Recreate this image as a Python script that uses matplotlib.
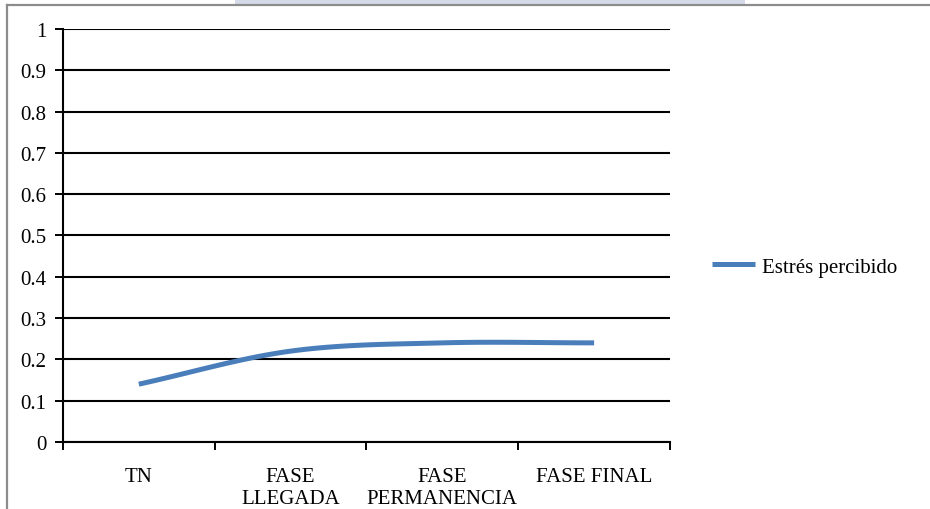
import numpy as np
import matplotlib
matplotlib.use("Agg")
from matplotlib import pyplot as plt
from matplotlib.patches import Rectangle

fases = ["TN", "FASE\nLLEGADA", "FASE\nPERMANENCIA", "FASE FINAL"]
estres = [0.14, 0.22, 0.24, 0.24]
yticks = [0, 0.1, 0.2, 0.3, 0.4, 0.5, 0.6, 0.7, 0.8, 0.9, 1]
ylabels = ["0", "0.1", "0.2", "0.3", "0.4", "0.5", "0.6", "0.7", "0.8", "0.9", "1"]

plt.rcParams['font.family'] = ['Liberation Serif', 'DejaVu Serif']


# courbe lissée (Catmull-Rom) entre les points
def lisser(x, y, n=30):
    x = np.asarray(x, float)
    y = np.asarray(y, float)
    px = np.concatenate([[2 * x[0] - x[1]], x, [2 * x[-1] - x[-2]]])
    py = np.concatenate([[2 * y[0] - y[1]], y, [2 * y[-1] - y[-2]]])
    xs, ys = [], []
    t = np.linspace(0, 1, n)
    for i in range(1, len(px) - 2):
        for p, out in ((px, xs), (py, ys)):
            p0, p1, p2, p3 = p[i - 1], p[i], p[i + 1], p[i + 2]
            out.extend(0.5 * ((2 * p1) + (-p0 + p2) * t
                              + (2 * p0 - 5 * p1 + 4 * p2 - p3) * t ** 2
                              + (-p0 + 3 * p1 - 3 * p2 + p3) * t ** 3))
    return xs, ys


fig = plt.figure(figsize=(9.3, 5.1), dpi=100)
ax = fig.add_axes([0.0677, 0.1314, 0.6527, 0.8098])

pos = np.arange(len(fases))
xs, ys = lisser(pos, estres)
ax.plot(xs, ys, color="#4a7ebb", lw=3.6, solid_capstyle="butt", label="Estrés percibido")

ax.set_xlim(-0.5, len(fases) - 0.5)
ax.set_ylim(0, 1)
ax.set_yticks(yticks)
ax.set_yticklabels(ylabels, fontsize=15)
ax.grid(axis="y", color="black", lw=1.5)
ax.set_axisbelow(True)

ax.set_xticks(np.arange(len(fases) + 1) - 0.5)
ax.set_xticklabels([])
ax.set_xticks(pos, minor=True)
ax.set_xticklabels(fases, minor=True, fontsize=15, linespacing=1.2)
ax.tick_params(axis="x", which="minor", length=0, pad=18)
ax.tick_params(axis="both", which="major", length=6, width=1.4, direction="out", color="black")
ax.tick_params(axis="y", pad=6)

for s in ["top", "right"]:
    ax.spines[s].set_visible(False)
for s in ["left", "bottom"]:
    ax.spines[s].set_linewidth(1.5)

ax.legend(loc="center left", bbox_to_anchor=(0.745, 0.475), bbox_transform=fig.transFigure,
          frameon=False, fontsize=15, handlelength=2.1, handletextpad=0.3)

# cadre autour du graphique
fig.add_artist(plt.Line2D([7 / 930, 1], [1 - 6 / 510, 1 - 6 / 510], color="#8c8c8c", lw=1.6))
fig.add_artist(plt.Line2D([7 / 930, 7 / 930], [0, 1 - 6 / 510], color="#8c8c8c", lw=1.6))
fig.add_artist(Rectangle((235 / 930, 1 - 5 / 510), 510 / 930, 5 / 510,
                         transform=fig.transFigure, color="#d5dae8", lw=0))

fig.savefig("out.png", dpi=100)
